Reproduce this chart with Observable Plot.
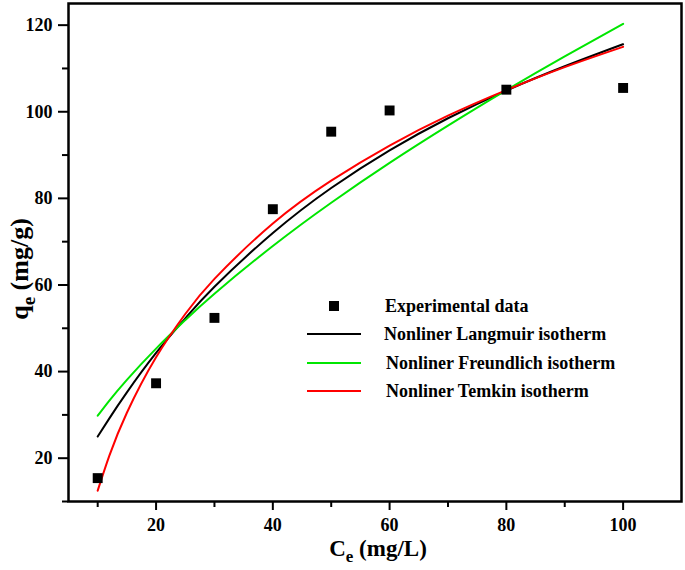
<!DOCTYPE html>
<html><head><meta charset="utf-8">
<script src="https://cdn.jsdelivr.net/npm/d3@7"></script>
<script src="https://cdn.jsdelivr.net/npm/@observablehq/plot@0.6"></script>
<style>body{margin:0;background:#fff} svg{display:block}</style>
</head><body><div id="chart"></div>
<script>
// Experimental data
const ceExp = [10, 20, 30, 40, 50, 60, 80, 100];
const qeExp = [15.4, 37.3, 52.4, 77.5, 95.4, 100.3, 105.1, 105.5];

// Fitted curves
const curveCe    = [10, 12, 15, 20, 25, 30, 40, 50, 60, 70, 80, 90, 100];
const langmuir   = [25.0, 29.2, 35.2, 44.3, 52.3, 59.6, 72.0, 82.4, 91.1, 98.5, 104.9, 110.5, 115.6];
const freundlich = [29.8, 33.3, 38.1, 45.3, 51.9, 58.0, 69.0, 79.0, 88.2, 96.8, 105.0, 112.8, 120.3];
const temkin     = [12.5, 20.6, 30.5, 43.3, 53.3, 61.4, 74.2, 84.1, 92.2, 99.1, 105.0, 110.3, 115.0];

// Axis ticks
const xMajor = [20, 40, 60, 80, 100];
const xMinor = [10, 30, 50, 70, 90];
const yMajor = [20, 40, 60, 80, 100, 120];
const yMinor = [10, 30, 50, 70, 90, 110];

// Legend
const legendLabels = ["Experimental data", "Nonliner Langmuir isotherm", "Nonliner Freundlich isotherm", "Nonliner Temkin isotherm"];
const seriesColors = ["#000000", "#000000", "#00e600", "#ff0000"];

const font = "'Liberation Serif','Times New Roman',serif";
const rows = vals => curveCe.map((c, i) => ({ce: c, qe: vals[i]}));
const expRows = ceExp.map((c, i) => ({ce: c, qe: qeExp[i]}));

const chart = Plot.plot({
  width: 685, height: 570,
  marginLeft: 68, marginRight: 4, marginTop: 3, marginBottom: 69,
  style: {fontFamily: font, background: "#fff", color: "#000"},
  x: {domain: [5, 110]},
  y: {domain: [10, 125]},
  marks: [
    Plot.line(rows(langmuir),   {x: "ce", y: "qe", stroke: seriesColors[1], strokeWidth: 2, curve: "natural"}),
    Plot.line(rows(freundlich), {x: "ce", y: "qe", stroke: seriesColors[2], strokeWidth: 2, curve: "natural"}),
    Plot.line(rows(temkin),     {x: "ce", y: "qe", stroke: seriesColors[3], strokeWidth: 2, curve: "natural"}),
    Plot.dot(expRows, {x: "ce", y: "qe", symbol: "square", fill: seriesColors[0], r: 5.6}),
    Plot.axisX({ticks: xMajor, tickSize: 9, tickPadding: 8, strokeWidth: 2, fontSize: 18, fontWeight: "bold", label: null, tickFormat: d => d}),
    Plot.axisX({ticks: xMinor, tickSize: 6, strokeWidth: 2, label: null, tickFormat: () => ""}),
    Plot.axisY({ticks: yMajor, tickSize: 10, tickPadding: 6, strokeWidth: 2, fontSize: 18, fontWeight: "bold", label: null, tickFormat: d => d}),
    Plot.axisY({ticks: yMinor, tickSize: 6, strokeWidth: 2, label: null, tickFormat: () => ""}),
    Plot.frame({stroke: "#000", strokeWidth: 2.5})
  ]
});

document.getElementById("chart").appendChild(chart);

const svg = d3.select(chart);

// Axis titles
const xt = svg.append("text")
  .attr("x", 378).attr("y", 556)
  .attr("text-anchor", "middle")
  .attr("font-family", font).attr("font-weight", "bold").attr("font-size", 23).attr("fill", "#000");
xt.append("tspan").text("C");
xt.append("tspan").attr("font-size", 17).attr("dy", 6).text("e");
xt.append("tspan").attr("dy", -6).text(" (mg/L)");

const yt = svg.append("text")
  .attr("transform", "translate(28,269) rotate(-90)")
  .attr("text-anchor", "middle")
  .attr("font-family", font).attr("font-weight", "bold").attr("font-size", 26).attr("fill", "#000");
yt.append("tspan").text("q");
yt.append("tspan").attr("font-size", 19).attr("dy", 7).text("e");
yt.append("tspan").attr("dy", -7).text(" (mg/g)");

// Legend
const lg = svg.append("g").attr("font-family", font).attr("font-weight", "bold").attr("font-size", 18).attr("text-anchor", "start");
const rowY = [306, 334, 363, 391];
const textX = [385, 384, 386, 386];
legendLabels.forEach((lab, i) => {
  if (i === 0) {
    lg.append("rect").attr("x", 329).attr("y", rowY[i] - 5).attr("width", 10).attr("height", 10).attr("fill", seriesColors[i]);
  } else {
    lg.append("line").attr("x1", 307).attr("x2", 361).attr("y1", rowY[i]).attr("y2", rowY[i])
      .attr("stroke", seriesColors[i]).attr("stroke-width", 2);
  }
  lg.append("text").attr("x", textX[i]).attr("y", rowY[i]).attr("dy", "0.35em").attr("text-anchor", "start").attr("fill", "#000").text(lab);
});
</script>
</body></html>
